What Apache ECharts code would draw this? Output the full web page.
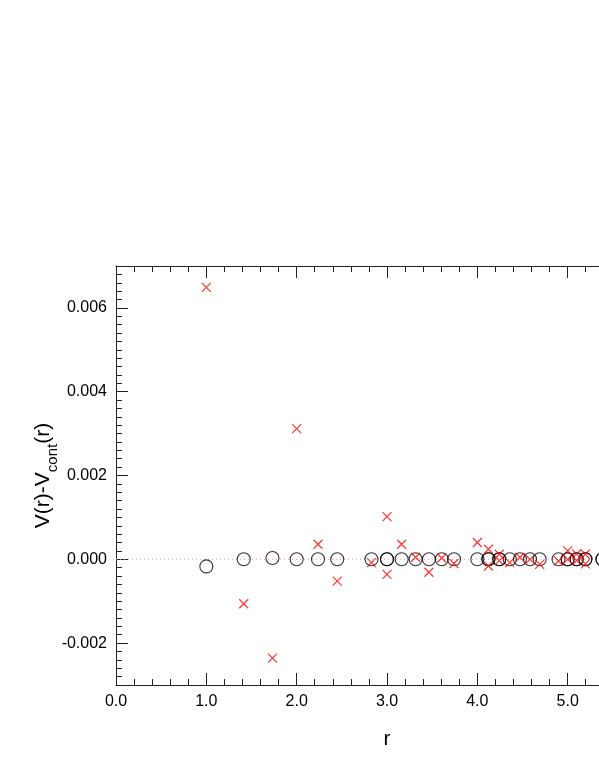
<!DOCTYPE html>
<html>
<head>
<meta charset="utf-8">
<script src="https://cdn.jsdelivr.net/npm/echarts@6/dist/echarts.min.js"></script>
<style>
html,body{margin:0;padding:0;background:#fff;}
#chart{width:599px;height:776px;}
</style>
</head>
<body>
<div id="chart"></div>
<script>
// r values (lattice distances) and V(r)-Vcont(r)
const circleR = [1, 1.414, 1.732, 2, 2.236, 2.449, 2.828, 3, 3, 3.162, 3.317, 3.464, 3.606, 3.742, 4,
  4.123, 4.123, 4.243, 4.243, 4.359, 4.472, 4.583, 4.690, 4.899, 5, 5, 5.099, 5.099, 5.196, 5.196, 5.385, 5.385];
const circleV = [-0.00017, 0, 0.00003, 0, 0, 0, 0, 0, 0, 0, 0, 0, 0, 0, 0,
  0, 0, 0, 0, 0, 0, 0, 0, 0, 0, 0, 0, 0, 0, 0, 0, 0];
const crossR = [1, 1.414, 1.732, 2, 2.236, 2.449, 2.828, 3, 3, 3.162, 3.317, 3.464, 3.606, 3.742, 4,
  4.123, 4.123, 4.243, 4.243, 4.359, 4.472, 4.583, 4.690, 4.899, 5, 5, 5.099, 5.099, 5.196, 5.196];
const crossV = [0.00649, -0.00106, -0.00236, 0.00312, 0.00036, -0.00052, -0.00008, 0.00102, -0.00036, 0.00036,
  0.00005, -0.00031, 0.00003, -0.0001, 0.0004, 0.00024, -0.00016, 0.00012, -0.00003, -0.00008,
  0.00005, 0, -0.00012, -0.00004, 0.0002, 0, 0.00013, -0.00003, 0.00012, -0.00011];
const zeroLineR = [0, 6];
const zeroLineV = [0, 0];
const yMajorTicks = [-0.002, 0, 0.002, 0.004, 0.006];

const FONT = '"Liberation Sans", Arial, Helvetica, sans-serif';
const AXIS_COLOR = '#222';

const chart = echarts.init(document.getElementById('chart'), null, {renderer: 'canvas'});

function zip(a, b) { return a.map((v, i) => [v, b[i]]); }

const xCommon = {
  type: 'value', min: 0, max: 6, interval: 1,
  axisLine: {show: true, onZero: false, lineStyle: {color: AXIS_COLOR, width: 1}},
  axisTick: {show: true, inside: true, length: 12, lineStyle: {color: AXIS_COLOR, width: 1}},
  minorTick: {show: true, splitNumber: 5, length: 6, lineStyle: {color: AXIS_COLOR, width: 1}},
  splitLine: {show: false},
  minorSplitLine: {show: false}
};

const option = {
  animation: false,
  backgroundColor: '#fff',
  grid: {left: 116, top: 266, width: 542, height: 419, containLabel: false, outerBoundsMode: 'none'},
  xAxis: [
    Object.assign({}, xCommon, {
      position: 'bottom',
      axisLabel: {show: true, color: '#000', fontFamily: FONT, fontSize: 16, margin: 9,
        formatter: v => v.toFixed(1)},
      name: 'r', nameLocation: 'middle', nameGap: 44, nameMoveOverlap: false,
      nameTextStyle: {color: '#000', fontFamily: FONT, fontSize: 21}
    }),
    Object.assign({}, xCommon, {
      position: 'top',
      axisLabel: {show: false}
    })
  ],
  yAxis: [
    {
      type: 'value', min: -0.003, max: 0.007, interval: 0.0002, position: 'left',
      axisLine: {show: true, onZero: false, lineStyle: {color: AXIS_COLOR, width: 1}},
      axisTick: {show: true, inside: true, length: 6, lineStyle: {color: AXIS_COLOR, width: 1}},
      splitLine: {show: false},
      axisLabel: {show: true, color: '#000', fontFamily: FONT, fontSize: 16, margin: 9,
        formatter: function (v) {
          const k = v / 0.002;
          if (Math.abs(k - Math.round(k)) < 1e-6) return (Math.abs(v) < 1e-9 ? 0 : v).toFixed(3);
          return '';
        }},
      name: '{a|V(r)-V}{b|cont}{a|(r)}', nameLocation: 'middle', nameRotate: 90, nameGap: 61,
      nameMoveOverlap: false,
      nameTextStyle: {
        color: '#000', fontFamily: FONT,
        rich: {
          a: {fontSize: 21, fontFamily: FONT, color: '#000', verticalAlign: 'top', lineHeight: 22},
          b: {fontSize: 15, fontFamily: FONT, color: '#000', verticalAlign: 'top', lineHeight: 15, padding: [12, 0, 0, 0]}
        }
      }
    },
    {
      type: 'value', min: -0.003, max: 0.007, position: 'left',
      axisLine: {show: false},
      axisTick: {show: true, inside: true, length: 12, customValues: yMajorTicks,
        lineStyle: {color: AXIS_COLOR, width: 1}},
      axisLabel: {show: false},
      splitLine: {show: false}
    }
  ],
  series: [
    {
      type: 'line', data: zip(zeroLineR, zeroLineV), symbol: 'none', silent: true,
      lineStyle: {color: '#e09a9a', width: 1, type: [1, 3]},
      xAxisIndex: 0, yAxisIndex: 0, z: 1
    },
    {
      type: 'scatter', data: zip(circleR, circleV), symbol: 'circle', symbolSize: 13,
      itemStyle: {color: 'rgba(0,0,0,0)', borderColor: '#000', borderWidth: 1.1},
      xAxisIndex: 0, yAxisIndex: 0, z: 2, silent: true
    },
    {
      type: 'scatter', data: zip(crossR, crossV), symbol: 'path://M0,0L10,10M10,0L0,10', symbolSize: 9,
      itemStyle: {color: 'rgba(0,0,0,0)', borderColor: '#ff0000', borderWidth: 1.2},
      xAxisIndex: 0, yAxisIndex: 0, z: 3, silent: true
    }
  ]
};
chart.setOption(option);
</script>
</body>
</html>
